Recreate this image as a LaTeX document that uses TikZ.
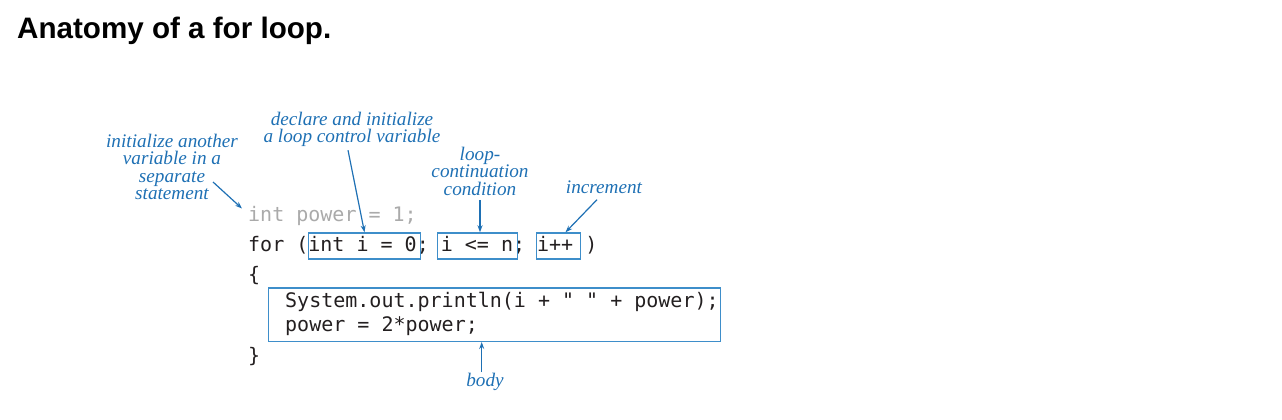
\documentclass[tikz,border=0pt]{standalone}
\usepackage{fontspec}
\newfontfamily\titlefont{Liberation Sans}
\newfontfamily\codefont{DejaVu Sans Mono}
\newfontfamily\labfont{Liberation Serif}
\usetikzlibrary{arrows.meta}
\definecolor{lblue}{RGB}{30,112,180}
\definecolor{bblue}{RGB}{62,142,202}
\definecolor{codegray}{RGB}{170,170,170}
\definecolor{codeblack}{RGB}{35,31,32}
\tikzset{
  lab/.style={inner sep=0pt, text=lblue, font=\fontsize{19.2}{17.6}\selectfont\labfont\itshape, align=center},
  code/.style={inner sep=0pt, anchor=base west, text=codeblack, font=\fontsize{20}{24}\selectfont\codefont},
  cbox/.style={draw=bblue, line width=1.3pt, inner sep=0pt, anchor=north west},
  arr/.style={draw=lblue, line width=1.2pt, -{Stealth[length=7pt,width=5pt]}}
}
\begin{document}
\begin{tikzpicture}[x=1pt,y=-1pt]
\useasboundingbox (0,0) rectangle (1282,420);
% title
\node[inner sep=0pt, anchor=base west, font=\fontsize{29.6}{34}\selectfont\titlefont\bfseries] (title) at (17,38.5) {Anatomy of a for loop.};
% code lines
\node[code, text=codegray] (l1) at (248,221) {int power = 1;};
\node[code] (l2) at (248,251.5) {for (int i = 0; i <= n; i++ )};
\node[code] (l3) at (248,281) {\{};
\node[code] (l4) at (285,307.7) {System.out.println(i + " " + power);};
\node[code] (l5) at (285,331.7) {power = 2*power;};
\node[code] (l6) at (248,362) {\}};
% boxes
\node[cbox, minimum width=112.3pt, minimum height=26pt] (b1) at (307.7,232.3) {};
\node[cbox, minimum width=80pt, minimum height=26pt] (b2) at (436.7,232.3) {};
\node[cbox, minimum width=44.3pt, minimum height=26pt] (b3) at (535.7,232.3) {};
\node[cbox, minimum width=452.3pt, minimum height=53.4pt] (body) at (267.7,287.3) {};
% labels
\node[lab, anchor=north] (lab1) at (172,133.5) {initialize another\\variable in a\\separate\\statement};
\node[lab, anchor=north] (lab2) at (352,111.8) {declare and initialize\\a loop control variable};
\node[lab, anchor=north] (lab3) at (480,146.8) {loop-\\continuation\\condition};
\node[lab, anchor=base] (lab4) at (604,193.3) {increment};
\node[lab, anchor=base] (lab5) at (485,386.7) {body};
% arrow end points
\coordinate (c1s) at (213,182);
\coordinate (c1e) at (242,208.5);
% arrows
\draw[arr] (c1s) -- (c1e);
\draw[arr] ([xshift=-4pt,yshift=-3pt]lab2.south) -- (b1.north);
\draw[arr] ([yshift=-4pt]lab3.south) -- (lab3.south |- b2.north);
\draw[arr] ([xshift=-7pt,yshift=-6pt]lab4.south) -- ([xshift=7pt]b3.north);
\draw[arr] ([yshift=1pt]lab5.north -| 481.7,0) -- (481.7,0 |- body.south);
\end{tikzpicture}
\end{document}
